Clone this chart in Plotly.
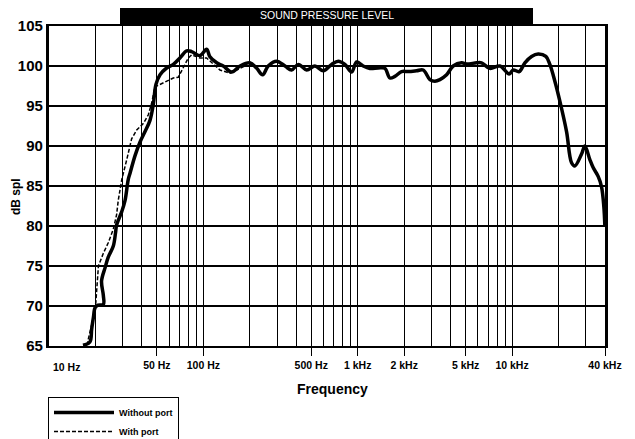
import plotly.graph_objects as go

# ---- data ----
freq_without = [16.6, 18.4, 18.9, 19.4, 19.9, 20.8, 22.5, 22.5, 21.9, 23.1, 24.2, 26.1, 27.0, 27.4,
                29.6, 31.1, 32.6, 33.5, 36.1, 38.9, 41.9, 45.1, 47.4, 49.3, 52.4, 57.8, 63.9,
                70.5, 78.0, 84.0, 95.0, 105, 110, 122, 134.6, 152.5, 172.6, 200, 221, 242, 263,
                298, 338, 373, 412, 467, 528, 598, 677, 748, 826, 913, 984, 1085, 1199, 1358,
                1501, 1616, 1741, 1924, 2124, 2407, 2657, 2935, 3162, 3408, 3766, 4154, 4709,
                5074, 5890, 6346, 7181, 8337, 9577, 10165, 11117, 12106, 13380, 14760, 16558,
                17572, 18934, 20399, 22542, 24287, 25514, 28191, 29614, 31906, 33519, 36118,
                37992, 39318, 39905]
db_without = [65.1, 65.5, 67.1, 68.6, 69.8, 70.1, 70.2, 71.3, 73.1, 74.8, 76.1, 77.5, 79.2, 80.1,
              81.8, 83.2, 85.8, 86.6, 88.8, 90.5, 91.8, 93.2, 95.2, 97.7, 98.9, 99.75, 100.2,
              101.0, 101.9, 101.8, 101.3, 102.1, 101.2, 100.4, 100.0, 99.25, 100.0, 100.4, 99.75,
              98.9, 100.0, 100.6, 100.0, 99.5, 100.2, 99.5, 100.0, 99.4, 100.2, 100.6, 100.2,
              99.25, 100.5, 100.0, 99.7, 99.75, 99.7, 98.5, 98.7, 99.3, 99.3, 99.4, 99.5, 98.3,
              98.1, 98.3, 98.9, 100.0, 100.4, 100.25, 100.4, 100.4, 99.7, 100.0, 99.0, 99.5,
              99.3, 100.4, 101.2, 101.5, 101.2, 100.2, 98.1, 95.6, 91.8, 87.9, 87.5, 89.0, 90.0,
              88.3, 87.3, 86.2, 84.9, 82.4, 80.1]

freq_with = [17.6, 19.4, 20.1, 20.4, 20.9, 22.5, 24.2, 26.1, 27.4, 28.1, 28.8, 29.6, 31.9, 34.3,
             37.0, 40.8, 44.0, 46.3, 48.6, 52.4, 57.8, 63.9, 68.8, 74.1, 79.9, 84.0, 95.0, 105,
             115.9, 128.1, 148.7, 164.3, 186]
db_with = [65.1, 68.6, 70.4, 72.6, 75.0, 76.6, 77.9, 79.6, 81.4, 83.2, 84.5, 85.8, 88.3, 90.9,
           92.0, 92.8, 93.9, 95.4, 97.4, 97.7, 98.1, 98.5, 98.6, 99.75, 101.0, 101.4, 101.0, 101.0,
           100.2, 99.5, 99.1, 99.5, 100.0]

x_tick_vals = [50, 100, 500, 1000, 2000, 5000, 10000, 40000]
x_tick_text = ["50 Hz", "100 Hz", "500 Hz", "1 kHz", "2 kHz", "5 kHz", "10 kHz", "40 kHz"]
x_grid_vals = [20, 30, 40, 60, 70, 80, 90, 200, 300, 400, 600, 700, 800, 900,
               3000, 4000, 6000, 7000, 8000, 9000, 20000, 30000]
y_tick_vals = [65, 70, 75, 80, 85, 90, 95, 100, 105]

FONT = "Liberation Sans, Arial, sans-serif"

fig = go.Figure()
fig.add_trace(go.Scatter(x=freq_without, y=db_without, mode="lines", name="Without port",
                         line=dict(color="black", width=3.5), line_shape="spline"))
fig.add_trace(go.Scatter(x=freq_with, y=db_with, mode="lines", name="With port",
                         line=dict(color="black", width=1.5, dash="4px,2px")))

# the page body has an 8px margin; target plot box in page pixels: x 49..605, y 26..346
OFF = 8
W, H = 635 - OFF, 439 - OFF
L, T = 49 - OFF, 26 - OFF
R = W - (605 - OFF)
B = H - (346 - OFF)
pw, ph = 556, 320

def px_x(p):
    return (p - 49) / pw

def px_y(p):
    return (346 - p) / ph

fig.update_layout(
    width=W, height=H,
    margin=dict(l=L, r=R, t=T, b=B, autoexpand=False),
    paper_bgcolor="white", plot_bgcolor="white",
    font=dict(family=FONT, color="black"),
    showlegend=True,
    legend=dict(x=px_x(48), y=px_y(397), xanchor="left", yanchor="top",
                bordercolor="black", borderwidth=1, bgcolor="white",
                font=dict(size=9, family=FONT, weight="bold"),
                itemwidth=60, tracegroupgap=0),
    xaxis=dict(type="log", range=[1, 4.60206], automargin=False,
               tickvals=x_tick_vals, ticktext=x_tick_text,
               ticks="outside", ticklen=8, tickwidth=1, tickcolor="black",
               tickfont=dict(size=10.5, family=FONT, weight="bold"),
               showgrid=True, gridcolor="black", gridwidth=1.3,
               minor=dict(tickvals=x_grid_vals, showgrid=True, gridcolor="black",
                          gridwidth=1.3, ticks=""),
               showline=True, linecolor="black", linewidth=2.4, mirror=True,
               zeroline=False),
    yaxis=dict(range=[65, 105], tickvals=y_tick_vals, automargin=False,
               ticks="", tickfont=dict(size=15, family=FONT, weight="bold"),
               showgrid=True, gridcolor="black", gridwidth=2,
               showline=True, linecolor="black", linewidth=3.2, mirror=True,
               zeroline=False),
)

fig.add_shape(type="rect", xref="paper", yref="paper",
              x0=px_x(120), x1=px_x(533), y0=px_y(24), y1=px_y(6),
              fillcolor="black", line=dict(width=0))
fig.add_annotation(xref="paper", yref="paper", x=px_x(327), y=px_y(15),
                   xanchor="center", yanchor="middle",
                   text="SOUND PRESSURE LEVEL", showarrow=False,
                   font=dict(size=10.5, color="white", family=FONT))
fig.add_annotation(xref="paper", yref="paper", x=px_x(16), y=px_y(197),
                   xanchor="center", yanchor="middle",
                   text="dB spl", textangle=-90, showarrow=False,
                   font=dict(size=12, family=FONT, weight="bold"))
fig.add_annotation(xref="paper", yref="paper", x=px_x(332), y=px_y(389),
                   xanchor="center", yanchor="middle",
                   text="Frequency", showarrow=False,
                   font=dict(size=14, family=FONT, weight="bold"))
fig.add_annotation(xref="x", yref="paper", x=1, y=px_y(367), xanchor="left",
                   yanchor="middle", xshift=2, text="10 Hz", showarrow=False,
                   font=dict(size=10.5, family=FONT, weight="bold"))

fig.write_html("out.html")
